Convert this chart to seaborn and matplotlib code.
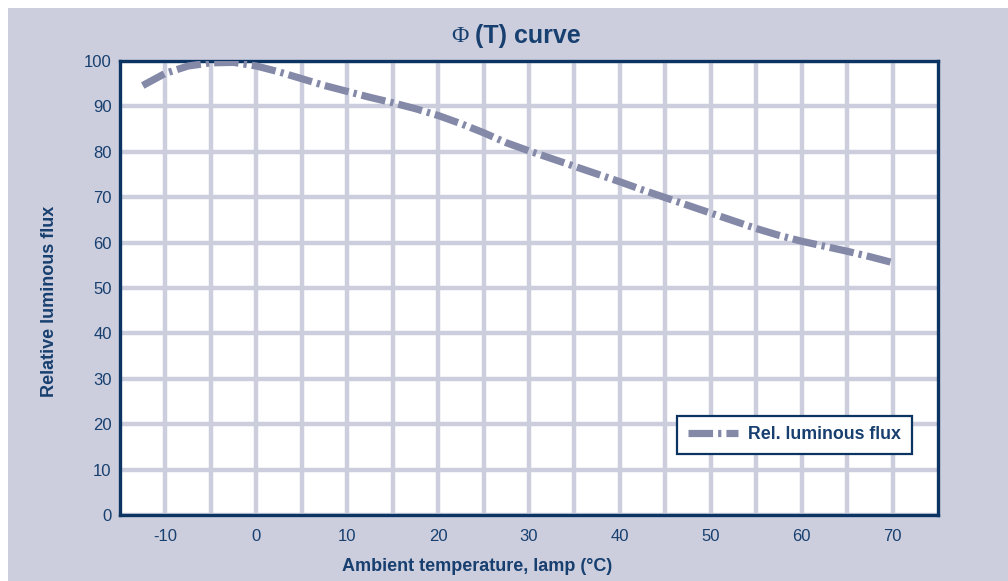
import numpy as np
import pandas as pd
import matplotlib
matplotlib.use("Agg")
import matplotlib.pyplot as plt
from matplotlib.patches import Rectangle
import seaborn as sns

# values
temperature = [-12.5, -10, -7.5, -5, -2.5, 0, 2.5, 5, 7.5, 10, 12.5, 15, 17.5, 20,
               22.5, 25, 27.5, 30, 32.5, 35, 37.5, 40, 42.5, 45, 47.5, 50, 52.5,
               55, 57.5, 60, 62.5, 65, 67.5, 70]
rel_flux = [94.6, 97.3, 98.9, 99.6, 99.7, 98.9, 97.6, 96.1, 94.6, 93.3, 92.0, 90.8,
            89.5, 88.0, 86.2, 84.2, 82.0, 80.2, 78.5, 76.8, 75.1, 73.4, 71.6, 69.9,
            68.2, 66.5, 64.8, 63.1, 61.6, 60.3, 59.2, 58.1, 56.9, 55.6]
x_ticks = [-10, 0, 10, 20, 30, 40, 50, 60, 70]
y_ticks = [0, 10, 20, 30, 40, 50, 60, 70, 80, 90, 100]

navy = "#0C3463"
text_col = "#173F6F"
panel = "#CCCEDD"
line_col = "#8489A8"

sns.set_theme(style="white")
plt.rcParams['font.family'] = ['Liberation Sans', 'DejaVu Sans']
plt.rcParams['axes.unicode_minus'] = False

df = pd.DataFrame({'T': temperature, 'flux': rel_flux})

fig = plt.figure(figsize=(10.08, 5.81), dpi=100)
fig.patch.set_facecolor("white")
fig.patches.append(Rectangle((8 / 1008, 0), 1, 1 - 8 / 581, transform=fig.transFigure,
                             facecolor=panel, edgecolor="none", zorder=-10))

ax = fig.add_axes([120 / 1008, 66 / 581, 818 / 1008, 454 / 581])
ax.set_facecolor("white")

sns.lineplot(data=df, x='T', y='flux', ax=ax, color=line_col, linewidth=5.2,
             label='Rel. luminous flux', zorder=3)
line = ax.get_lines()[0]
line.set_dashes((3.4, 0.7, 0.45, 0.7))
line.set_dash_capstyle('butt')

ax.set_xlim(-15, 75)
ax.set_ylim(0, 100)
ax.set_xticks(np.arange(-10, 71, 5), minor=True)
ax.set_xticks(x_ticks)
ax.set_yticks(y_ticks)
ax.grid(True, which='both', axis='x', color=panel, linewidth=3.2)
ax.grid(True, which='major', axis='y', color=panel, linewidth=3.2)
ax.set_axisbelow(True)
ax.tick_params(which='both', length=0, labelsize=12, labelcolor=text_col)
ax.tick_params(axis='x', pad=10)
ax.tick_params(axis='y', pad=6)
for s in ax.spines.values():
    s.set_visible(True)
    s.set_color(navy)
    s.set_linewidth(2.4)

ax.set_xlabel('Ambient temperature, lamp (°C)', fontsize=13, fontweight='bold',
              color=text_col)
ax.xaxis.set_label_coords((477 - 120) / 818, -0.095)
ax.set_ylabel('Relative luminous flux', fontsize=13, fontweight='bold',
              color=text_col)
ax.yaxis.set_label_coords(-(120 - 58) / 818, (515 - 301) / 454)

t = fig.text(475 / 1008, 1 - 36 / 581, '(T) curve', fontsize=18, fontweight='bold',
             color=text_col, ha='left', va='center')
ax.annotate('Φ ', xy=(0, 0.5), xycoords=t, ha='right', va='center', fontsize=17,
            family=['Liberation Serif', 'DejaVu Serif'], color=text_col)

leg = ax.legend(loc='lower right', bbox_to_anchor=(0.968, 0.134), fancybox=False,
                framealpha=1, edgecolor=navy, fontsize=12.8, handlelength=2.8,
                handletextpad=0.6, borderpad=0.6, borderaxespad=0)
leg.get_frame().set_linewidth(1.6)
for txt in leg.get_texts():
    txt.set_color(text_col)
    txt.set_fontweight('bold')
for h in leg.get_lines():
    h.set_linewidth(5.2)

fig.savefig('out.png', dpi=100)
